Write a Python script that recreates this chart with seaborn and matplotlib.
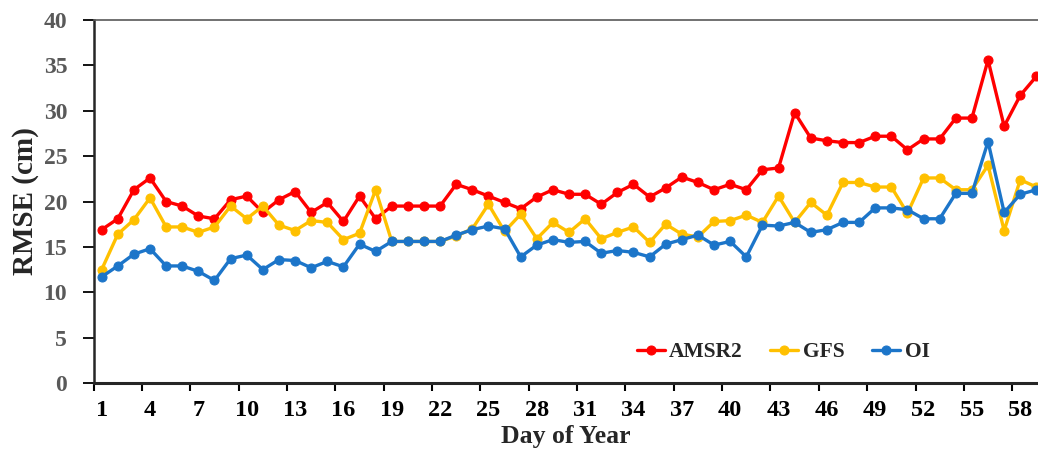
import numpy as np
import pandas as pd
import matplotlib
matplotlib.use("Agg")
import matplotlib.pyplot as plt
import seaborn as sns

sns.set_style("ticks")
plt.rcParams['font.family'] = ['Liberation Serif', 'DejaVu Serif']
plt.rcParams['font.weight'] = 'bold'

# ==========================================
# Data
# ==========================================
days = list(range(1, 60))

amsr2 = [16.9, 18.1, 21.3, 22.6, 20.0, 19.5, 18.4, 18.1, 20.2, 20.6,
         18.8, 20.2, 21.1, 18.8, 19.9, 17.8, 20.6, 18.1, 19.5, 19.5,
         19.5, 19.5, 21.9, 21.3, 20.6, 19.9, 19.2, 20.5, 21.3, 20.8,
         20.8, 19.7, 21.0, 21.9, 20.5, 21.5, 22.7, 22.1, 21.3, 21.9,
         21.3, 23.5, 23.7, 29.8, 27.0, 26.7, 26.5, 26.5, 27.2, 27.2,
         25.7, 26.9, 26.9, 29.2, 29.2, 35.6, 28.3, 31.7, 33.8]

gfs = [12.5, 16.4, 18.0, 20.4, 17.2, 17.2, 16.6, 17.2, 19.5, 18.1,
       19.5, 17.4, 16.8, 17.9, 17.7, 15.8, 16.5, 21.3, 15.6, 15.6,
       15.6, 15.6, 16.2, 17.0, 19.7, 16.7, 18.6, 15.9, 17.7, 16.6,
       18.1, 15.9, 16.6, 17.2, 15.5, 17.5, 16.4, 16.1, 17.8, 17.9,
       18.5, 17.7, 20.6, 17.7, 19.9, 18.5, 22.1, 22.1, 21.6, 21.6,
       18.7, 22.6, 22.6, 21.3, 21.3, 24.0, 16.8, 22.4, 21.6]

oi = [11.7, 12.9, 14.2, 14.8, 12.9, 12.9, 12.3, 11.3, 13.7, 14.1,
      12.5, 13.6, 13.5, 12.7, 13.4, 12.8, 15.3, 14.5, 15.6, 15.6,
      15.6, 15.6, 16.3, 16.9, 17.3, 17.0, 13.9, 15.2, 15.8, 15.5,
      15.6, 14.3, 14.6, 14.4, 13.9, 15.3, 15.8, 16.3, 15.2, 15.6,
      13.9, 17.4, 17.3, 17.7, 16.6, 16.9, 17.7, 17.7, 19.3, 19.3,
      19.1, 18.1, 18.1, 20.9, 20.9, 26.6, 18.8, 20.8, 21.3]

series_names = ["AMSR2", "GFS", "OI"]
series_colors = {"AMSR2": "#FF0000", "GFS": "#FFC000", "OI": "#1C75C9"}

df = pd.DataFrame({
    "Day": days * 3,
    "RMSE": amsr2 + gfs + oi,
    "Series": ["AMSR2"] * len(days) + ["GFS"] * len(days) + ["OI"] * len(days),
})

# ==========================================
# Plot
# ==========================================
fig = plt.figure(figsize=(10.38, 4.57), dpi=100)
ax = fig.add_axes([0.0902, 0.162, 0.9098, 0.794])

for name in series_names:
    sns.lineplot(data=df[df["Series"] == name], x="Day", y="RMSE",
                 color=series_colors[name], marker="o", markersize=6.5,
                 markeredgecolor=series_colors[name], linewidth=2.4,
                 label=name, ax=ax, clip_on=True)

ax.set_xlim(0.5, 59.1)
ax.set_ylim(0, 40)
ax.set_yticks(np.arange(0, 41, 5))

# category-style axis: labels at days, tick marks between categories
ax.set_xticks(days[::3])
ax.set_xticklabels([str(d) for d in days[::3]])
ax.set_xticks(np.arange(0.5, 59.1, 3), minor=True)
ax.tick_params(axis="x", which="major", length=0, pad=12, labelsize=17.5, colors="black")
ax.tick_params(axis="x", which="minor", length=6, width=1.5, color="black", direction="out")
ax.tick_params(axis="y", which="major", length=8, width=1.3, pad=11,
               labelsize=17, labelcolor="#595959", color="black")

ax.set_xlabel("Day of Year", fontsize=18.5, fontweight="bold", labelpad=3)
ax.set_ylabel("RMSE (cm)", fontsize=21, fontweight="bold", labelpad=3)

for lbl in ax.get_xticklabels() + ax.get_yticklabels():
    lbl.set_fontweight("bold")

ax.spines["left"].set_linewidth(1.8)
ax.spines["bottom"].set_linewidth(2.2)
ax.spines["top"].set_color("#595959")
ax.spines["top"].set_linewidth(1.2)
ax.spines["right"].set_visible(False)

ax.legend(loc="center", bbox_to_anchor=(0.73, 0.085), ncol=3, frameon=False,
          prop={"family": "Liberation Serif", "weight": "bold", "size": 15.5},
          handlelength=1.3, handletextpad=0.2, columnspacing=1.3)

plt.savefig("out.png", dpi=100)
